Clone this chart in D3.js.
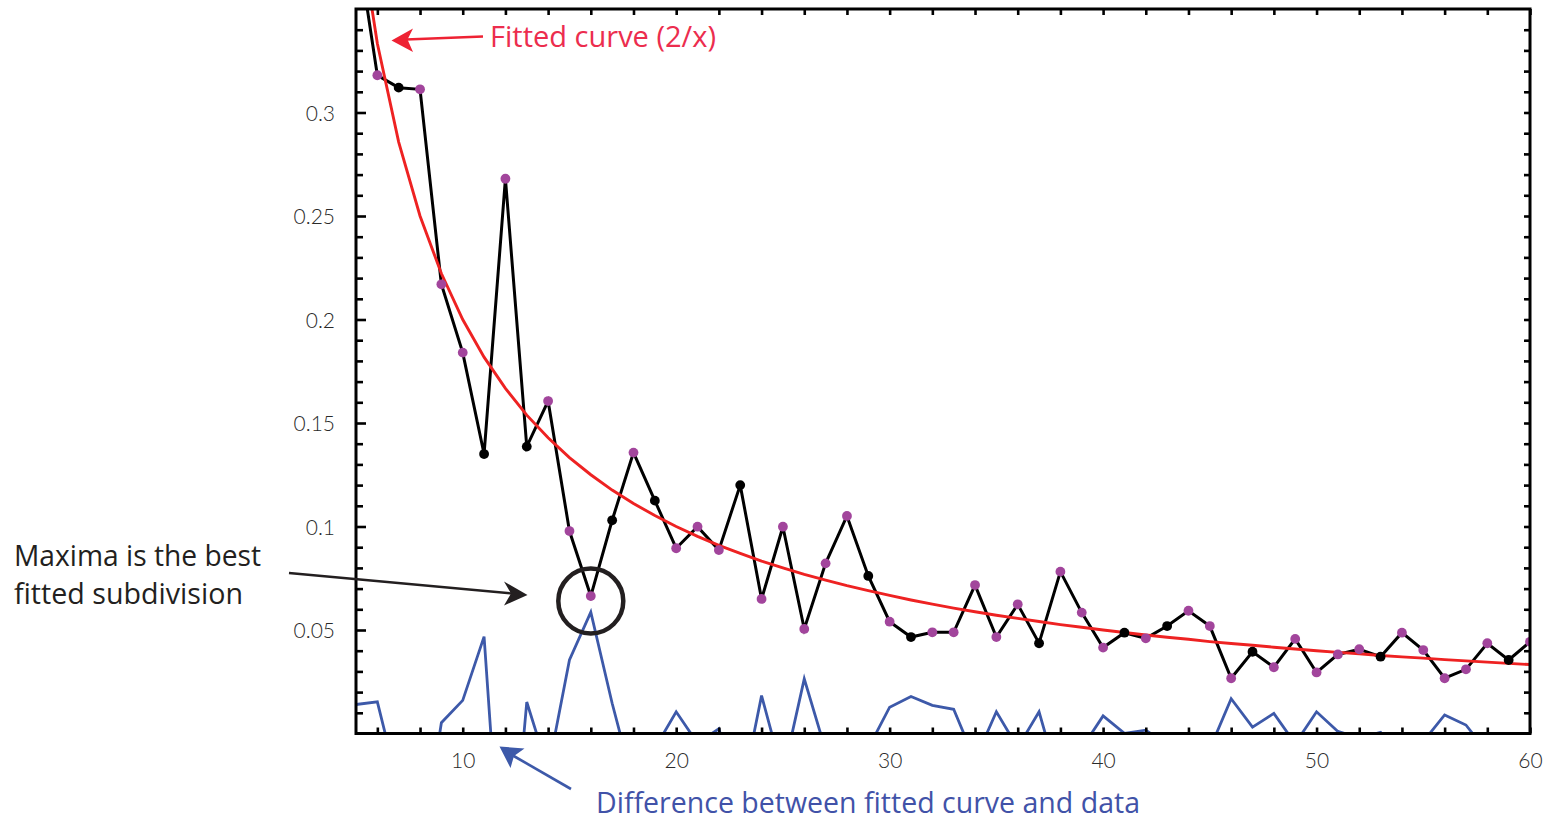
<!DOCTYPE html>
<html>
<head>
<meta charset="utf-8">
<script src="https://cdn.jsdelivr.net/npm/d3@7"></script>
<style>
  html, body { margin: 0; padding: 0; background: #fff; }
  svg { display: block; }
  .tick text { font-family: Lato, "DejaVu Sans", sans-serif; font-weight: 300; fill: #2a2a2a; }
  .ann { font-family: "Open Sans", "Noto Sans", sans-serif; }
</style>
</head>
<body>
<svg id="chart" width="1545" height="821"></svg>
<script>
// ---- data ----
const subdivisions = [5,6,7,8,9,10,11,12,13,14,15,16,17,18,19,20,21,22,23,24,25,26,27,28,29,30,31,32,33,34,35,36,37,38,39,40,41,42,43,44,45,46,47,48,49,50,51,52,53,54,55,56,57,58,59,60];
const measured = [0.386,0.318,0.312,0.3112,0.217,0.184,0.135,0.268,0.1386,0.1606,0.0978,0.0664,0.103,0.1357,0.1125,0.0895,0.0999,0.0886,0.12,0.065,0.0999,0.0505,0.0822,0.1051,0.0761,0.054,0.0466,0.0489,0.0489,0.0717,0.0466,0.0624,0.0436,0.0782,0.0584,0.0415,0.0487,0.046,0.0519,0.0593,0.0519,0.0267,0.0395,0.032,0.0457,0.0295,0.0382,0.0407,0.0371,0.0487,0.0403,0.0267,0.031,0.0436,0.0355,0.0443];
// fitted curve 2/x, tabulated at each subdivision
const fitted = [0.4,0.3333,0.2857,0.25,0.2222,0.2,0.1818,0.1667,0.1538,0.1429,0.1333,0.125,0.1176,0.1111,0.1053,0.1,0.0952,0.0909,0.087,0.0833,0.08,0.0769,0.0741,0.0714,0.069,0.0667,0.0645,0.0625,0.0606,0.0588,0.0571,0.0556,0.0541,0.0526,0.0513,0.05,0.0488,0.0476,0.0465,0.0455,0.0444,0.0435,0.0426,0.0417,0.0408,0.04,0.0392,0.0385,0.0377,0.037,0.0364,0.0357,0.0351,0.0345,0.0339,0.0333];
// difference fitted - measured (negative parts fall below the axis)
const difference = [0.014,0.0153,-0.0263,-0.0612,0.0052,0.016,0.0468,-0.1013,0.0152,-0.0177,0.0355,0.0586,0.0146,-0.0246,-0.0072,0.0105,-0.0047,0.0023,-0.033,0.0183,-0.0199,0.0264,-0.0081,-0.0337,-0.0071,0.0127,0.0179,0.0136,0.0117,-0.0129,0.0105,-0.0068,0.0105,-0.0256,-0.0071,0.0085,0.0001,0.0016,-0.0054,-0.0138,-0.0075,0.0168,0.0031,0.0097,-0.0049,0.0105,0.001,-0.0022,0.0006,-0.0117,-0.0039,0.009,0.0041,-0.0091,-0.0016,-0.011];
const primeSubdivisions = [5,7,11,13,17,19,23,29,31,37,41,43,47,53,59];
const xTickLabels = [10,20,30,40,50,60];
const yTickLabels = [0.05,0.1,0.15,0.2,0.25,0.3];

// ---- layout ----
const svg = d3.select("#chart");
const L = 356, R = 1530, T = 9, B = 733.5;
const x = d3.scaleLinear().domain([5,60]).range([L,R]);
const y = d3.scaleLinear().domain([0,0.35]).range([B,T]);

const rows = subdivisions.map((n,i) => ({n, v: measured[i], f: fitted[i], d: difference[i], prime: primeSubdivisions.includes(n)}));

svg.append("defs").append("clipPath").attr("id","plotclip")
  .append("rect").attr("x",L).attr("y",T).attr("width",R-L).attr("height",B-T);

const plot = svg.append("g").attr("clip-path","url(#plotclip)");

// difference line (blue)
plot.append("path").datum(rows)
  .attr("fill","none").attr("stroke","#3d59a9").attr("stroke-width",2.8)
  .attr("d", d3.line().x(d=>x(d.n)).y(d=>y(d.d)));

// measured line (black)
plot.append("path").datum(rows)
  .attr("fill","none").attr("stroke","#000").attr("stroke-width",3)
  .attr("d", d3.line().x(d=>x(d.n)).y(d=>y(d.v)));

// fitted curve (red)
plot.append("path").datum(rows)
  .attr("fill","none").attr("stroke","#ee2222").attr("stroke-width",2.9)
  .attr("d", d3.line().x(d=>x(d.n)).y(d=>y(d.f)));

// points
plot.selectAll("circle.pt").data(rows).join("circle")
  .attr("class","pt")
  .attr("cx", d=>x(d.n)).attr("cy", d=>y(d.v)).attr("r", 4.9)
  .attr("fill", d=> d.prime ? "#000" : "#a2459c");

// ---- axes ----
const xTicks = d3.range(6,61,2);
const yTicks = d3.range(1,35).map(k=>+(k*0.01).toFixed(2));
const isYLabel = v => yTickLabels.some(t=>Math.abs(t-v)<1e-9);
const fmtY = v => isYLabel(v) ? String(+v.toFixed(2)) : "";

const gB = svg.append("g").attr("transform",`translate(0,${B})`)
  .call(d3.axisBottom(x).tickValues(xTicks).tickSize(-6).tickPadding(20)
    .tickFormat(v => xTickLabels.includes(v) ? String(v) : ""));
const gT = svg.append("g").attr("transform",`translate(0,${T})`)
  .call(d3.axisTop(x).tickValues(xTicks).tickSize(-6).tickFormat(""));
const gL = svg.append("g").attr("transform",`translate(${L},0)`)
  .call(d3.axisLeft(y).tickValues(yTicks).tickPadding(15).tickFormat(fmtY));
const gR = svg.append("g").attr("transform",`translate(${R},0)`)
  .call(d3.axisRight(y).tickValues(yTicks).tickSize(-6).tickFormat(""));

gL.selectAll(".tick line").attr("x1", 0).attr("x2", d => isYLabel(d) ? 10 : 7);
[gB,gT,gL,gR].forEach(g=>{
  g.select(".domain").remove();
  g.selectAll(".tick line").attr("stroke","#000").attr("stroke-width",2.6);
  g.selectAll(".tick text").attr("font-size",21).attr("fill","#2a2a2a");
});
gL.selectAll(".tick text").attr("dy","0.36em");

// frame
svg.append("rect").attr("x",L).attr("y",T).attr("width",R-L).attr("height",B-T)
  .attr("fill","none").attr("stroke","#000").attr("stroke-width",3);

// ---- annotations ----
const ann = svg.append("g").attr("class","ann");

// red: fitted curve label
ann.append("line").attr("x1",483).attr("y1",36.5).attr("x2",406).attr("y2",39.5)
  .attr("stroke","#ee2233").attr("stroke-width",2.6);
ann.append("path").attr("d","M391.5,40.5 L413,28.5 L407.5,39.5 L413,52 Z").attr("fill","#ee2233");
ann.append("text").attr("x",490).attr("y",47).attr("font-size",29)
  .attr("textLength",226).attr("lengthAdjust","spacingAndGlyphs")
  .attr("fill","#ec2d4e").text("Fitted curve (2/x)");

// black: maxima annotation
ann.append("text").attr("x",14).attr("y",566).attr("font-size",29)
  .attr("textLength",247).attr("lengthAdjust","spacingAndGlyphs")
  .attr("fill","#231f20").text("Maxima is the best");
ann.append("text").attr("x",14).attr("y",604).attr("font-size",29)
  .attr("textLength",229).attr("lengthAdjust","spacingAndGlyphs")
  .attr("fill","#231f20").text("fitted subdivision");
ann.append("line").attr("x1",289).attr("y1",573).attr("x2",512).attr("y2",593.5)
  .attr("stroke","#231f20").attr("stroke-width",2.4);
ann.append("path").attr("d","M527.5,595 L504,581.5 L511,593.5 L504,605.5 Z").attr("fill","#231f20");
ann.append("circle").attr("cx",x(16)).attr("cy",y(0.064)).attr("r",32.5)
  .attr("fill","none").attr("stroke","#231f20").attr("stroke-width",4.5);

// blue: difference label
ann.append("line").attr("x1",571).attr("y1",789).attr("x2",512).attr("y2",755)
  .attr("stroke","#3d59a9").attr("stroke-width",2.6);
ann.append("path").attr("d","M499.5,746.5 L524.5,748.5 L514,756 L510.5,768 Z").attr("fill","#3d59a9");
ann.append("text").attr("x",596).attr("y",813).attr("font-size",29)
  .attr("textLength",544).attr("lengthAdjust","spacingAndGlyphs")
  .attr("fill","#4152a8").text("Difference between fitted curve and data");
</script>
</body>
</html>
